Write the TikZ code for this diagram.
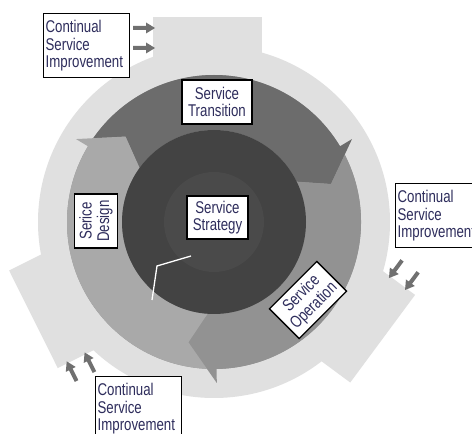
\documentclass[tikz,border=0pt]{standalone}
\usepackage{fontspec}
\usepackage{xcolor}
\usepackage{tikz}
\usetikzlibrary{positioning, calc}
\newfontfamily\lblfont[FakeStretch=0.78]{Liberation Sans}
\definecolor{ringlight}{HTML}{E0E0E0}
\definecolor{transgray}{HTML}{6C6C6C}
\definecolor{opgray}{HTML}{929292}
\definecolor{designgray}{HTML}{A9A9A9}
\definecolor{coredark}{HTML}{434343}
\definecolor{corelight}{HTML}{4A4A4A}
\definecolor{feedgray}{HTML}{707070}
\definecolor{lbltext}{HTML}{2E2D5C}

\begin{document}
\begin{tikzpicture}[
        x=1pt, y=1pt,
        lbl/.style={draw=black, line width=1.3pt, fill=white, text=lbltext,
            font=\lblfont\fontsize{17}{17.5}\selectfont, inner sep=2pt},
        csibox/.style={lbl, align=left, text width=82pt, minimum height=64pt, anchor=north west},
        phasebox/.style={lbl, align=center},
        feed/.style={fill=feedgray}
    ]
        \def\rOut{176}
        \def\rRing{147}
        \def\rCore{92}
        \def\rHub{50}

        \useasboundingbox (0,0) rectangle (472,434);
        \clip (0,0) rectangle (472,434);
        \fill[white] (0,0) rectangle (472,434);

        \begin{scope}[shift={(214,212)}]
            % outer ring, its three tabs and the small feed arrows
            \fill[ringlight] (0,0) circle[radius=\rOut];
            \foreach \rot in {0, 116.5, -126.5} {
                \begin{scope}[rotate=\rot]
                    \fill[ringlight] (-61,140) rectangle (48,205);
                    \foreach \yy in {194, 174}
                        \fill[feed] (-81,{\yy-2}) -- (-68,{\yy-2}) -- (-68,{\yy-5.5}) -- (-59,\yy)
                            -- (-68,{\yy+5.5}) -- (-68,{\yy+2}) -- (-81,{\yy+2}) -- cycle;
                \end{scope}
            }

            % lifecycle arrows
            \fill[opgray] (0,0) circle[radius=\rRing];
            \foreach \from/\to/\col in {136/18/transgray, 18/-102/opgray, 258/136/designgray}
                \fill[\col] ({\from+8}:\rCore) -- (\from:123) -- ({\from+9.24}:\rRing)
                    arc[start angle={\from+9.24}, end angle={\to+13}, radius=\rRing]
                    -- ({\to+13}:161) -- (\to:123) -- ({\to+8}:\rCore)
                    arc[start angle={\to+8}, end angle={\from+8}, radius=\rCore] -- cycle;

            % strategy core
            \fill[coredark] (0,0) circle[radius=\rCore];
            \fill[corelight] (0,0) circle[radius=\rHub];
        \end{scope}

        \draw[white, line width=1.3pt] (191,178) -- (157,168) -- (152,134);

        \node[csibox] (csiTop) at (43,421) {Continual\\Service\\Improvement};
        \node[csibox] (csiRight) at (395,251) {Continual\\Service\\Improvement};
        \node[csibox] (csiBottom) at (95,58) {Continual\\Service\\Improvement};

        \node[phasebox, minimum width=70pt, minimum height=44pt] (transition) at (217,332) {Service\\Transition};
        \node[phasebox, minimum width=61pt, minimum height=43pt] (strategy) at (217.5,216.5) {Service\\Strategy};
        \node[phasebox, rotate=90, minimum width=54pt, minimum height=43pt] (design) at (96,213) {Serice\\Design};
        \node[phasebox, rotate=45, minimum width=67pt, minimum height=42pt] (operation) at (308,134) {Service\\Operation};
    \end{tikzpicture}
\end{document}
